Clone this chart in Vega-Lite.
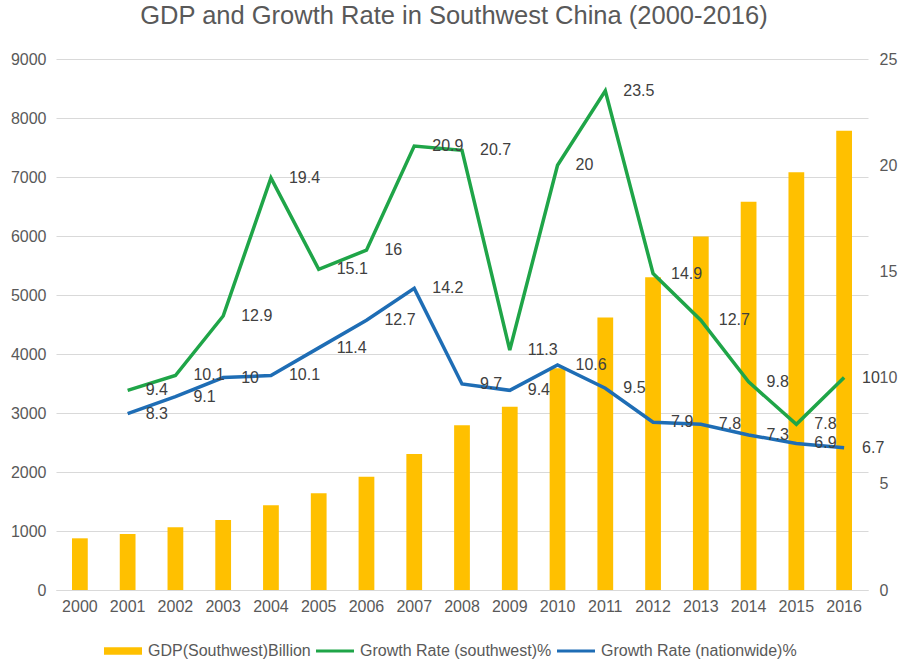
{
  "$schema": "https://vega.github.io/schema/vega-lite/v6.json",
  "width": 812,
  "height": 531,
  "autosize": {"type": "none"},
  "padding": {"left": 56, "top": 59, "right": 37, "bottom": 70},
  "background": "white",
  "title": {
    "text": "GDP and Growth Rate in Southwest China (2000-2016)",
    "fontSize": 25.5,
    "font": "Liberation Sans",
    "fontWeight": "normal",
    "color": "#595959",
    "anchor": "middle",
    "offset": 22,
    "dx": -8
  },
  "config": {
    "font": "Liberation Sans",
    "view": {"stroke": null},
    "axis": {
      "labelFont": "Liberation Sans",
      "labelFontSize": 16,
      "labelColor": "#595959",
      "ticks": false,
      "title": null
    }
  },
  "data": {
    "values": [
      {"year": "2000", "series": "GDP(Southwest)Billion", "value": 876},
      {"year": "2001", "series": "GDP(Southwest)Billion", "value": 949},
      {"year": "2002", "series": "GDP(Southwest)Billion", "value": 1062},
      {"year": "2003", "series": "GDP(Southwest)Billion", "value": 1186},
      {"year": "2004", "series": "GDP(Southwest)Billion", "value": 1435},
      {"year": "2005", "series": "GDP(Southwest)Billion", "value": 1638},
      {"year": "2006", "series": "GDP(Southwest)Billion", "value": 1921},
      {"year": "2007", "series": "GDP(Southwest)Billion", "value": 2305},
      {"year": "2008", "series": "GDP(Southwest)Billion", "value": 2791},
      {"year": "2009", "series": "GDP(Southwest)Billion", "value": 3107},
      {"year": "2010", "series": "GDP(Southwest)Billion", "value": 3760},
      {"year": "2011", "series": "GDP(Southwest)Billion", "value": 4620},
      {"year": "2012", "series": "GDP(Southwest)Billion", "value": 5300},
      {"year": "2013", "series": "GDP(Southwest)Billion", "value": 5990},
      {"year": "2014", "series": "GDP(Southwest)Billion", "value": 6580},
      {"year": "2015", "series": "GDP(Southwest)Billion", "value": 7080},
      {"year": "2016", "series": "GDP(Southwest)Billion", "value": 7785},
      {"year": "2001", "series": "Growth Rate (southwest)%", "value": 9.4},
      {"year": "2002", "series": "Growth Rate (southwest)%", "value": 10.1},
      {"year": "2003", "series": "Growth Rate (southwest)%", "value": 12.9},
      {"year": "2004", "series": "Growth Rate (southwest)%", "value": 19.4},
      {"year": "2005", "series": "Growth Rate (southwest)%", "value": 15.1},
      {"year": "2006", "series": "Growth Rate (southwest)%", "value": 16},
      {"year": "2007", "series": "Growth Rate (southwest)%", "value": 20.9},
      {"year": "2008", "series": "Growth Rate (southwest)%", "value": 20.7},
      {"year": "2009", "series": "Growth Rate (southwest)%", "value": 11.3},
      {"year": "2010", "series": "Growth Rate (southwest)%", "value": 20},
      {"year": "2011", "series": "Growth Rate (southwest)%", "value": 23.5},
      {"year": "2012", "series": "Growth Rate (southwest)%", "value": 14.9},
      {"year": "2013", "series": "Growth Rate (southwest)%", "value": 12.7},
      {"year": "2014", "series": "Growth Rate (southwest)%", "value": 9.8},
      {"year": "2015", "series": "Growth Rate (southwest)%", "value": 7.8},
      {"year": "2016", "series": "Growth Rate (southwest)%", "value": 10},
      {"year": "2001", "series": "Growth Rate (nationwide)%", "value": 8.3},
      {"year": "2002", "series": "Growth Rate (nationwide)%", "value": 9.1},
      {"year": "2003", "series": "Growth Rate (nationwide)%", "value": 10},
      {"year": "2004", "series": "Growth Rate (nationwide)%", "value": 10.1},
      {"year": "2005", "series": "Growth Rate (nationwide)%", "value": 11.4},
      {"year": "2006", "series": "Growth Rate (nationwide)%", "value": 12.7},
      {"year": "2007", "series": "Growth Rate (nationwide)%", "value": 14.2},
      {"year": "2008", "series": "Growth Rate (nationwide)%", "value": 9.7},
      {"year": "2009", "series": "Growth Rate (nationwide)%", "value": 9.4},
      {"year": "2010", "series": "Growth Rate (nationwide)%", "value": 10.6},
      {"year": "2011", "series": "Growth Rate (nationwide)%", "value": 9.5},
      {"year": "2012", "series": "Growth Rate (nationwide)%", "value": 7.9},
      {"year": "2013", "series": "Growth Rate (nationwide)%", "value": 7.8},
      {"year": "2014", "series": "Growth Rate (nationwide)%", "value": 7.3},
      {"year": "2015", "series": "Growth Rate (nationwide)%", "value": 6.9},
      {"year": "2016", "series": "Growth Rate (nationwide)%", "value": 6.7}
    ]
  },
  "encoding": {
    "x": {
      "field": "year",
      "type": "ordinal",
      "scale": {"paddingInner": 0.67, "paddingOuter": 0.335},
      "axis": {"labelAngle": 0, "labelPadding": 8, "domainColor": "#d9d9d9", "domainWidth": 1, "grid": false}
    }
  },
  "layer": [
    {
      "transform": [{"filter": "datum.series === 'GDP(Southwest)Billion'"}],
      "mark": {"type": "bar"},
      "encoding": {
        "y": {
          "field": "value",
          "type": "quantitative",
          "scale": {"domain": [0, 9000], "nice": false},
          "axis": {"values": [0, 1000, 2000, 3000, 4000, 5000, 6000, 7000, 8000, 9000], "format": "d", "domain": false, "grid": true, "gridColor": "#d9d9d9", "labelPadding": 10}
        },
        "color": {
          "field": "series",
          "type": "nominal",
          "sort": null,
          "scale": {
            "domain": ["GDP(Southwest)Billion", "Growth Rate (southwest)%", "Growth Rate (nationwide)%"],
            "range": ["#FFC000", "#1FA548", "#1E6DB5"]
          },
          "legend": {
            "title": null,
            "orient": "none",
            "direction": "horizontal",
            "legendX": 48,
            "legendY": 573,
            "labelFont": "Liberation Sans",
            "labelFontSize": 16,
            "labelColor": "#595959",
            "labelLimit": 0,
            "labelOffset": 6,
            "columnPadding": 5,
            "symbolSize": 1444,
            "encode": {
              "symbols": {
                "update": {
                  "shape": {"signal": "datum.value === 'GDP(Southwest)Billion' ? 'M-1,-0.2H1V0.2H-1Z' : 'M-1,-0.08H1V0.08H-1Z'"},
                  "fill": {"signal": "scale('color', datum.value)"},
                  "strokeWidth": {"value": 0},
                  "opacity": {"value": 1},
                  "fillOpacity": {"value": 1}
                }
              }
            }
          }
        }
      }
    },
    {
      "transform": [{"filter": "datum.series !== 'GDP(Southwest)Billion'"}],
      "encoding": {
        "y": {
          "field": "value",
          "type": "quantitative",
          "scale": {"domain": [0, 25], "nice": false},
          "axis": {"orient": "right", "values": [0, 5, 10, 15, 20, 25], "domain": false, "grid": false, "labelPadding": 11}
        }
      },
      "layer": [
        {
          "mark": {"type": "line", "strokeWidth": 3.5},
          "encoding": {
            "color": {"field": "series", "type": "nominal", "sort": null}
          }
        },
        {
          "mark": {"type": "text", "align": "left", "baseline": "middle", "dx": 18, "fontSize": 16, "font": "Liberation Sans", "color": "#404040"},
          "encoding": {
            "text": {"field": "value", "type": "quantitative"}
          }
        }
      ]
    }
  ],
  "resolve": {"scale": {"y": "independent"}}
}
